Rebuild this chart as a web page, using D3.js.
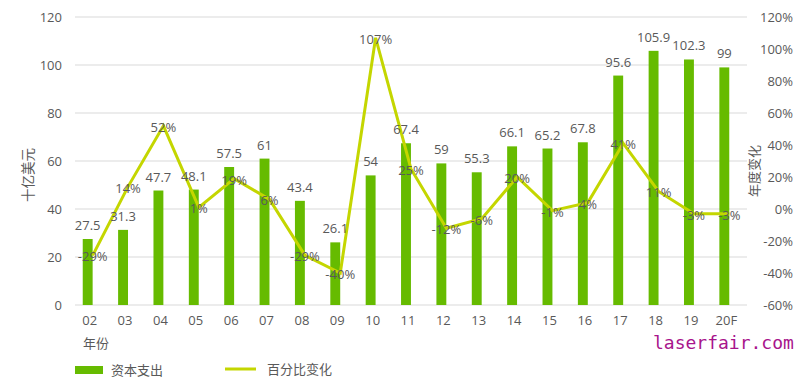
<!DOCTYPE html>
<html><head><meta charset="utf-8">
<script src="https://cdn.jsdelivr.net/npm/d3@7"></script>
<style>body{margin:0;background:#fff}svg{display:block}</style>
</head><body>
<svg id="c" width="800" height="379"></svg>
<script>
const years = ["02","03","04","05","06","07","08","09","10","11","12","13","14","15","16","17","18","19","20F"];
const capex = [27.5,31.3,47.7,48.1,57.5,61,43.4,26.1,54,67.4,59,55.3,66.1,65.2,67.8,95.6,105.9,102.3,99];
const pct = [-29,14,52,1,19,6,-29,-40,107,25,-12,-6,20,-1,4,41,11,-3,-3];
const leftTicks = [0,20,40,60,80,100,120];
const rightTicks = [-60,-40,-20,0,20,40,60,80,100,120];

const svg = d3.select("#c");
const font = "'Open Sans', 'Noto Sans CJK SC', sans-serif";
const txt = "#595959";
const barColor = "#66bb00", lineColor = "#c4d600";

const x = d3.scaleBand().domain(years).range([70, 742]).paddingInner(0.72).paddingOuter(0.36);
const xl = d3.scaleBand().domain(years).range([75, 747]);
const y = d3.scaleLinear().domain([0,120]).range([305,17]);
const y2 = d3.scaleLinear().domain([-60,120]).range([305,17]);

// grid
svg.append("g").selectAll("line").data(leftTicks).join("line")
  .attr("x1",75).attr("x2",747).attr("y1",d=>y(d)).attr("y2",d=>y(d))
  .attr("stroke","#d9d9d9").attr("stroke-width",1);

// left axis
const la = svg.append("g").attr("transform","translate(62,0)")
  .call(d3.axisLeft(y).tickValues(leftTicks).tickSize(0).tickPadding(0));
la.select(".domain").remove();
la.selectAll("text").attr("font-family",font).attr("font-size",13).attr("fill",txt);

// right axis
const ra = svg.append("g").attr("transform","translate(793,0)")
  .call(d3.axisLeft(y2).tickValues(rightTicks).tickSize(0).tickPadding(0).tickFormat(d=>d+"%"));
ra.select(".domain").remove();
ra.selectAll("text").attr("font-family",font).attr("font-size",13).attr("fill",txt);

// x axis
const xa = svg.append("g").attr("transform","translate(2,316)")
  .call(d3.axisBottom(x).tickSize(0).tickPadding(0));
xa.select(".domain").remove();
xa.selectAll("text").attr("font-family",font).attr("font-size",13).attr("fill",txt);

// bars
svg.append("g").selectAll("rect").data(capex).join("rect")
  .attr("x",(d,i)=>x(years[i])).attr("width",x.bandwidth())
  .attr("y",d=>y(d)).attr("height",d=>y(0)-y(d)).attr("fill",barColor);

// line
const line = d3.line().x((d,i)=>xl(years[i])+xl.bandwidth()/2).y(d=>y2(d));
svg.append("path").datum(pct).attr("d",line).attr("fill","none")
  .attr("stroke",lineColor).attr("stroke-width",3).attr("stroke-linejoin","miter");

// bar labels
svg.append("g").selectAll("text").data(capex).join("text")
  .attr("x",(d,i)=>x(years[i])+x.bandwidth()/2).attr("y",d=>y(d)-14)
  .attr("text-anchor","middle").attr("dominant-baseline","central")
  .attr("font-family",font).attr("font-size",13).attr("fill",txt).text(d=>d);

// pct labels
svg.append("g").selectAll("text").data(pct).join("text")
  .attr("x",(d,i)=>xl(years[i])+xl.bandwidth()/2).attr("y",d=>y2(d)+1)
  .attr("text-anchor","middle").attr("dominant-baseline","central")
  .attr("font-family",font).attr("font-size",13).attr("fill",txt).text(d=>d+"%");

// axis titles
svg.append("text").attr("transform","translate(28,175) rotate(-90)")
  .attr("text-anchor","middle").attr("dominant-baseline","central")
  .attr("font-family",font).attr("font-size",13.5).attr("fill",txt).text("十亿美元");
svg.append("text").attr("transform","translate(754,171) rotate(-90)")
  .attr("text-anchor","middle").attr("dominant-baseline","central")
  .attr("font-family",font).attr("font-size",13).attr("fill",txt).text("年度变化");
svg.append("text").attr("x",83).attr("y",343).attr("dominant-baseline","central")
  .attr("font-family",font).attr("font-size",13).attr("fill",txt).text("年份");

// legend
svg.append("rect").attr("x",75).attr("y",366).attr("width",28).attr("height",8).attr("fill",barColor);
svg.append("text").attr("x",111).attr("y",370).attr("dominant-baseline","central")
  .attr("font-family",font).attr("font-size",13).attr("fill",txt).text("资本支出");
svg.append("line").attr("x1",225).attr("x2",256).attr("y1",369).attr("y2",369)
  .attr("stroke",lineColor).attr("stroke-width",3);
svg.append("text").attr("x",267).attr("y",369).attr("dominant-baseline","central")
  .attr("font-family",font).attr("font-size",13).attr("fill",txt).text("百分比变化");

// watermark
svg.append("text").attr("x",653).attr("y",342).attr("dominant-baseline","central")
  .attr("font-family","'DejaVu Sans Mono', monospace").attr("font-size",18).attr("fill","#a8148c").text("laserfair.com");
</script>
</body></html>
